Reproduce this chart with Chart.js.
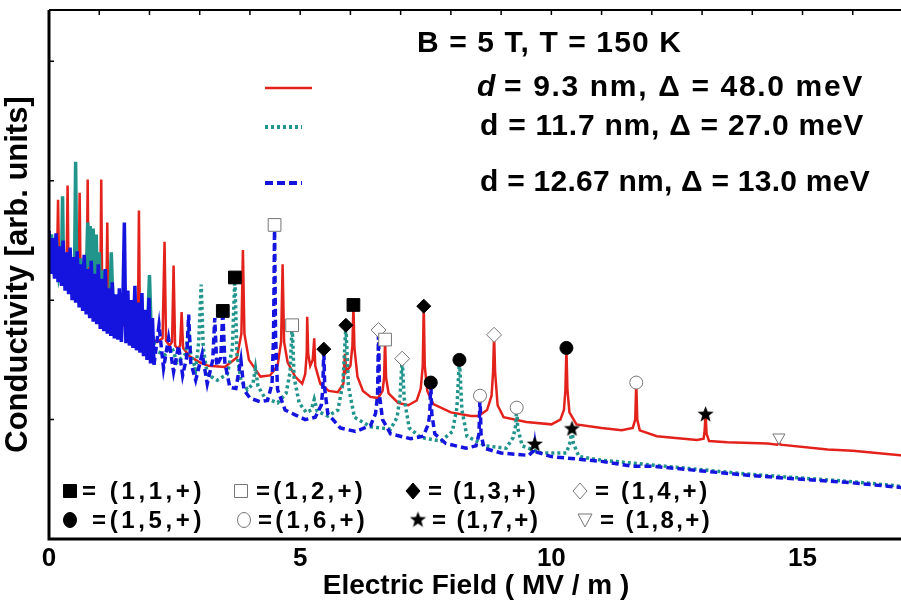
<!DOCTYPE html>
<html>
<head>
  <title>Conductivity vs Electric Field</title>
  <script src="https://cdn.jsdelivr.net/npm/chart.js"></script>
  <style>
    html, body { margin: 0; padding: 0; background: #fff; overflow: hidden; }
    #wrap { width: 913px; height: 609px; }
  </style>
</head>
<body>
<div id="wrap"><canvas id="cond"></canvas></div>
<script>
const xTicks = [0, 5, 10, 15];
const headerText = 'B = 5 T, T = 150 K';
const seriesLabels = ['d = 9.3 nm, \u0394 = 48.0 meV', 'd = 11.7 nm, \u0394 = 27.0 meV', 'd = 12.67 nm, \u0394 = 13.0 meV'];

// [field MV/m, conductivity arb.]
const redCurve = [
  [0.00,2.45],[0.08,2.34],[0.16,2.33],[0.18,2.84],[0.20,2.30],[0.28,2.22],[0.35,2.25],[0.37,2.96],[0.39,2.22],
  [0.50,2.12],[0.59,2.14],[0.61,2.90],[0.63,2.11],[0.70,2.05],[0.75,2.07],[0.77,3.01],[0.79,2.05],[0.92,1.96],
  [1.02,1.97],[1.04,3.01],[1.06,1.96],[1.10,1.93],[1.14,1.95],[1.16,2.65],[1.18,1.93],[1.45,1.80],[1.70,1.73],
  [1.77,1.78],[1.79,2.75],[1.81,1.76],[1.90,1.70],[2.15,1.65],[2.26,1.68],[2.30,2.49],[2.33,1.66],[2.40,1.62],
  [2.45,1.65],[2.48,2.29],[2.51,1.62],[2.57,1.59],[2.61,1.62],[2.64,1.90],[2.67,1.60],[2.80,1.53],[3.00,1.48],
  [3.17,1.45],[3.50,1.44],[3.74,1.52],[3.83,1.72],[3.86,2.42],[3.89,1.72],[3.98,1.50],[4.21,1.36],[4.40,1.37],
  [4.55,1.45],[4.62,1.65],[4.65,2.30],[4.68,1.65],[4.75,1.48],[4.90,1.36],[5.04,1.30],[5.10,1.38],[5.13,1.55],
  [5.14,1.86],[5.16,1.55],[5.20,1.45],[5.25,1.50],[5.28,1.68],[5.30,1.45],[5.40,1.30],[5.57,1.24],[5.75,1.23],
  [5.86,1.30],[5.89,1.55],[5.92,1.40],[6.00,1.45],[6.04,1.62],[6.06,1.96],[6.08,1.60],[6.14,1.36],[6.25,1.24],
  [6.40,1.19],[6.55,1.18],[6.64,1.24],[6.67,1.35],[6.69,1.67],[6.71,1.35],[6.76,1.22],[6.95,1.14],[7.15,1.12],
  [7.32,1.16],[7.40,1.26],[7.44,1.45],[7.46,1.95],[7.48,1.45],[7.53,1.24],[7.65,1.13],[8.00,1.06],[8.40,1.03],
  [8.55,1.03],[8.72,1.08],[8.81,1.20],[8.84,1.40],[8.86,1.71],[8.88,1.40],[8.93,1.12],[9.05,1.02],[9.50,0.98],
  [10.00,0.96],[10.18,1.00],[10.25,1.08],[10.28,1.25],[10.30,1.60],[10.32,1.25],[10.36,1.06],[10.50,0.96],
  [11.00,0.93],[11.40,0.91],[11.62,0.93],[11.67,1.00],[11.69,1.31],[11.71,1.00],[11.76,0.91],[12.10,0.86],
  [12.90,0.83],[13.03,0.84],[13.05,0.90],[13.07,1.05],[13.09,0.88],[13.14,0.82],[13.50,0.81],[14.30,0.80],
  [14.50,0.79],[14.53,0.81],[14.56,0.79],[15.50,0.75],[16.00,0.74],[17.00,0.70]
];

const tealCurve = [
  [0.00,2.35],[0.05,2.55],[0.10,2.25],[0.15,2.50],[0.20,2.20],[0.25,2.30],[0.27,2.87],[0.29,2.25],[0.35,2.15],
  [0.40,2.40],[0.45,2.10],[0.51,2.30],[0.53,3.16],[0.55,2.25],[0.60,2.05],[0.63,2.35],[0.66,2.00],[0.69,2.32],
  [0.72,1.98],[0.75,2.30],[0.77,2.65],[0.79,2.28],[0.82,2.62],[0.85,2.05],[0.88,2.60],[0.91,2.02],[0.94,2.55],
  [0.97,1.95],[1.00,2.40],[1.03,1.92],[1.06,2.25],[1.09,1.90],[1.12,2.15],[1.16,1.86],[1.20,2.05],[1.22,2.10],
  [1.24,2.40],[1.27,2.00],[1.34,1.80],[1.45,1.95],[1.55,1.74],[1.65,1.90],[1.75,1.68],
  [1.90,1.75],[1.97,1.85],[2.00,2.21],[2.03,1.80],[2.12,1.58],[2.30,1.54],[2.45,1.60],[2.55,1.48],[2.72,1.55],
  [2.78,1.75],[2.82,1.55],[2.92,1.42],[2.98,1.65],[3.03,2.13],[3.07,1.60],[3.15,1.38],[3.35,1.33],[3.55,1.38],
  [3.65,1.60],[3.70,2.19],[3.74,1.55],[3.82,1.33],[3.95,1.25],[4.06,1.30],[4.11,1.43],[4.16,1.28],[4.30,1.18],
  [4.55,1.14],[4.72,1.22],[4.80,1.40],[4.84,1.79],[4.88,1.35],[4.98,1.14],[5.12,1.06],[5.22,1.08],[5.28,1.17],
  [5.34,1.07],[5.55,1.03],[5.75,1.08],[5.85,1.30],[5.91,1.79],[5.96,1.28],[6.08,1.02],[6.40,0.94],[6.80,0.92],
  [6.93,1.02],[6.99,1.20],[7.03,1.51],[7.07,1.18],[7.17,0.93],[7.40,0.85],[7.80,0.82],[8.03,0.90],[8.12,1.10],
  [8.17,1.50],[8.22,1.08],[8.32,0.86],[8.70,0.78],[9.10,0.76],[9.24,0.85],[9.29,0.95],[9.31,1.10],[9.33,0.93],
  [9.42,0.78],[9.80,0.72],[10.30,0.72],[10.38,0.82],[10.41,0.93],[10.44,0.80],[10.55,0.69],[11.00,0.66],
  [12.00,0.62],[13.00,0.58],[14.00,0.54],[15.00,0.51],[16.00,0.48],[17.00,0.44]
];

const blueCurve = [
  [0.00,2.58],[0.04,2.22],[0.07,2.52],[0.11,2.18],[0.14,2.56],[0.18,2.15],[0.21,2.45],[0.25,2.12],[0.28,2.50],
  [0.32,2.08],[0.35,2.40],[0.39,2.05],[0.42,2.44],[0.46,2.00],[0.49,2.36],[0.53,1.98],[0.56,2.41],[0.60,1.94],
  [0.63,2.30],[0.67,1.91],[0.70,2.38],[0.74,1.88],[0.77,2.26],[0.81,1.85],[0.84,2.33],[0.88,1.82],[0.91,2.22],
  [0.95,1.80],[0.98,2.30],[1.02,1.76],[1.05,2.18],[1.09,1.74],[1.12,2.26],[1.16,1.72],[1.19,2.10],[1.23,1.70],
  [1.26,2.15],[1.30,1.68],[1.33,2.05],[1.37,1.67],[1.40,2.10],[1.44,1.65],[1.47,1.95],[1.50,2.65],[1.53,1.64],
  [1.57,2.08],[1.60,1.62],[1.64,2.00],[1.67,1.60],[1.71,2.12],[1.74,1.58],[1.78,1.98],[1.81,1.56],[1.85,2.06],
  [1.88,1.53],[1.92,1.92],[1.95,1.50],[1.99,2.02],[2.02,1.47],[2.06,1.85],[2.09,1.46],
  [2.19,1.79],[2.28,1.43],[2.38,1.68],[2.48,1.40],[2.58,1.62],[2.66,1.37],[2.74,1.52],
  [2.78,1.88],[2.82,1.48],[2.92,1.33],[3.05,1.55],[3.15,1.30],[3.26,1.50],[3.30,1.85],[3.34,1.45],[3.42,1.52],
  [3.46,1.91],[3.50,1.48],[3.60,1.27],[3.72,1.26],[3.82,1.50],[3.88,1.25],[4.00,1.18],[4.20,1.15],[4.35,1.16],
  [4.44,1.30],[4.47,1.70],[4.49,2.63],[4.51,1.70],[4.55,1.25],[4.70,1.08],[4.90,1.04],[5.10,1.00],[5.30,1.02],
  [5.42,1.12],[5.45,1.25],[5.47,1.59],[5.49,1.25],[5.55,1.05],[5.80,0.93],[6.10,0.90],[6.40,0.95],[6.50,1.05],
  [6.54,1.20],[6.56,1.75],[6.58,1.20],[6.64,1.00],[6.80,0.88],[7.20,0.84],[7.45,0.86],[7.55,0.96],[7.58,1.05],
  [7.60,1.31],[7.62,1.05],[7.68,0.88],[7.90,0.80],[8.30,0.76],[8.50,0.78],[8.56,0.88],[8.58,1.20],[8.60,0.88],
  [8.66,0.76],[9.00,0.72],[9.55,0.70],[9.65,0.74],[9.67,0.80],[9.69,0.73],[10.00,0.69],[10.50,0.67],[11.00,0.65],
  [11.60,0.61],[12.00,0.61],[13.00,0.57],[14.00,0.53],[15.00,0.50],[16.00,0.47],[17.00,0.43]
];

// resonance markers (1,n,+) on the three curves
const mark11 = [[3.46,1.91],[3.70,2.19],[6.06,1.96]];
const mark12 = [[4.49,2.63],[4.84,1.79],[6.69,1.67]];
const mark13 = [[5.47,1.59],[5.91,1.79],[7.46,1.95]];
const mark14 = [[6.56,1.75],[7.03,1.51],[8.86,1.71]];
const mark15 = [[7.60,1.31],[8.17,1.50],[10.30,1.60]];
const mark16 = [[8.58,1.20],[9.31,1.10],[11.69,1.31]];
const mark17 = [[9.67,0.80],[10.41,0.93],[13.07,1.05]];
const mark18 = [[14.53,0.85]];
const markLabels = ['= (1,1,+)', '=(1,2,+)', '= (1,3,+)', '= (1,4,+)', '=(1,5,+)', '=(1,6,+)', '= (1,7,+)', '= (1,8,+)'];

const RED = '#e3221c', TEAL = '#21948c', BLUE = '#1414de';
const FONT = '"Liberation Sans", Arial, sans-serif';
const DENSE_END = 2.1;   // below this field the oscillations merge into a solid band

function starImage(size) {
  const c = document.createElement('canvas');
  c.width = c.height = size;
  const g = c.getContext('2d');
  g.beginPath();
  for (let i = 0; i < 10; i++) {
    const r = i % 2 ? size * 0.21 : size * 0.5;
    const a = -Math.PI / 2 + i * Math.PI / 5;
    g.lineTo(size / 2 + r * Math.cos(a), size / 2 + 1 + r * Math.sin(a));
  }
  g.closePath();
  g.fillStyle = '#000';
  g.fill();
  return c;
}
const star = starImage(17);

const toXY = arr => arr.map(p => ({ x: p[0], y: p[1] }));

const markStyles = [
  { data: mark11, pointStyle: 'rect', r: 9, fill: '#000', line: '#000' },
  { data: mark12, pointStyle: 'rect', r: 9, fill: '#fff', line: '#777' },
  { data: mark13, pointStyle: 'rectRot', r: 7, fill: '#000', line: '#000' },
  { data: mark14, pointStyle: 'rectRot', r: 7.5, fill: '#fff', line: '#777' },
  { data: mark15, pointStyle: 'circle', r: 6.5, fill: '#000', line: '#000' },
  { data: mark16, pointStyle: 'circle', r: 6.5, fill: '#fff', line: '#777' },
  { data: mark17, pointStyle: star, r: 8, fill: '#000', line: '#000' },
  { data: mark18, pointStyle: 'triangle', r: 7, fill: '#fff', line: '#777', rot: 180 }
];

const markerSets = markStyles.map((m, i) => ({
  label: markLabels[i],
  data: toXY(m.data),
  showLine: false,
  pointStyle: m.pointStyle,
  pointRadius: m.r,
  pointRotation: m.rot || 0,
  pointBackgroundColor: m.fill,
  pointBorderColor: m.line,
  pointBorderWidth: 1,
  clip: false
}));

const denseSolid = { borderDash: c => (c.p1.parsed.x < DENSE_END ? [] : undefined) };

const curveSets = [
  { label: seriesLabels[2], data: toXY(blueCurve), showLine: true, borderColor: BLUE, borderWidth: 3.5,
    borderDash: [7, 4], pointRadius: 0, segment: denseSolid },
  { label: seriesLabels[1], data: toXY(tealCurve), showLine: true, borderColor: TEAL, borderWidth: 3.5,
    borderDash: [3, 3], pointRadius: 0, segment: denseSolid },
  { label: seriesLabels[0], data: toXY(redCurve), showLine: true, borderColor: RED, borderWidth: 2.5, pointRadius: 0 }
];

function fitText(ctx, text, x, y, w, font) {
  ctx.font = font;
  ctx.letterSpacing = '0px';
  const m = ctx.measureText(text).width;
  const n = [...text].length;
  ctx.letterSpacing = ((w - m) / n).toFixed(2) + 'px';
  ctx.fillText(text, x, y);
  ctx.letterSpacing = '0px';
}

function legendMarker(ctx, i, x, y) {
  const m = markStyles[i];
  ctx.save();
  ctx.fillStyle = m.fill;
  ctx.strokeStyle = m.line;
  ctx.lineWidth = 1;
  ctx.beginPath();
  if (m.pointStyle === 'rect') {
    ctx.rect(x - 6.5, y - 6.5, 13, 13);
  } else if (m.pointStyle === 'rectRot') {
    ctx.moveTo(x, y - 8); ctx.lineTo(x + 7, y); ctx.lineTo(x, y + 8); ctx.lineTo(x - 7, y); ctx.closePath();
  } else if (m.pointStyle === 'circle') {
    ctx.ellipse(x, y, 6.5, 7.5, 0, 0, Math.PI * 2);
  } else if (m.pointStyle === 'triangle') {
    ctx.moveTo(x - 7, y - 6); ctx.lineTo(x + 7, y - 6); ctx.lineTo(x, y + 7); ctx.closePath();
  } else {
    ctx.drawImage(star, x - 8.5, y - 9.5);
    ctx.restore();
    return;
  }
  ctx.fill();
  ctx.stroke();
  ctx.restore();
}

const decor = {
  id: 'decor',
  afterDraw(chart) {
    const { ctx, chartArea: a, scales: { x, y } } = chart;
    ctx.save();
    ctx.strokeStyle = '#000';
    // frame
    ctx.lineWidth = 3;
    ctx.beginPath();
    ctx.moveTo(a.left, a.top); ctx.lineTo(a.left, a.bottom); ctx.lineTo(a.right, a.bottom);
    ctx.stroke();
    ctx.lineWidth = 2;
    ctx.beginPath();
    ctx.moveTo(a.left, a.top); ctx.lineTo(a.right, a.top);
    ctx.stroke();
    // inward ticks
    ctx.lineWidth = 1.5;
    ctx.beginPath();
    for (let v = 1; v < 17; v++) {
      const px = x.getPixelForValue(v);
      ctx.moveTo(px, a.top); ctx.lineTo(px, a.top + 5);
    }
    for (let v = 1; v < 5; v++) {
      const py = y.getPixelForValue(v);
      ctx.moveTo(a.left, py); ctx.lineTo(a.left + 5, py);
    }
    ctx.stroke();

    // series legend
    ctx.fillStyle = '#000';
    ctx.textBaseline = 'middle';
    ctx.textAlign = 'left';
    fitText(ctx, headerText, 417, 44, 265, 'bold 30px ' + FONT);
    ctx.font = 'italic bold 30px ' + FONT;
    ctx.fillText('d', 477, 88);
    fitText(ctx, seriesLabels[0].slice(1), 494, 88, 370, 'bold 30px ' + FONT);
    fitText(ctx, seriesLabels[1], 480, 127, 384, 'bold 30px ' + FONT);
    fitText(ctx, seriesLabels[2], 480, 183, 390, 'bold 30px ' + FONT);
    const samples = [[RED, [], 2.5, 88, 312], [TEAL, [3, 3], 4, 127, 302], [BLUE, [8, 4], 4, 183, 302]];
    samples.forEach(([c, dash, w, yy, x2]) => {
      ctx.strokeStyle = c; ctx.setLineDash(dash); ctx.lineWidth = w;
      ctx.beginPath(); ctx.moveTo(265, yy); ctx.lineTo(x2, yy); ctx.stroke();
    });
    ctx.setLineDash([]);

    // marker legend
    const slots = [
      [70, 82, 123, 491], [241, 256, 110, 491], [413, 428, 110, 491], [580, 595, 115, 491],
      [70, 92, 113, 520], [244, 258, 110, 520], [418, 432, 108, 520], [585, 600, 112, 520]
    ];
    slots.forEach(([mx, tx, tw, yy], i) => {
      legendMarker(ctx, i, mx, yy);
      ctx.fillStyle = '#000';
      fitText(ctx, markLabels[i], tx, yy + 1, tw, 'bold 24px ' + FONT);
    });
    ctx.restore();
  }
};

new Chart(document.getElementById('cond'), {
  type: 'scatter',
  data: { datasets: markerSets.concat(curveSets) },
  options: {
    responsive: true,
    maintainAspectRatio: false,
    animation: false,
    events: [],
    layout: { padding: { top: 6, left: 0, right: 0, bottom: 0 } },
    plugins: { legend: { display: false }, tooltip: { enabled: false } },
    scales: {
      x: {
        type: 'linear', min: 0, max: 17,
        afterFit: s => { s.height = 70; },
        afterBuildTicks: s => { s.ticks = xTicks.map(v => ({ value: v })); },
        grid: { display: false, drawTicks: false },
        border: { display: false },
        ticks: { color: '#000', padding: 4, font: { family: FONT, size: 26, weight: 'bold' } },
        title: { display: true, text: 'Electric Field ( MV / m )', color: '#000', padding: { top: 0, bottom: 6 },
                 font: { family: FONT, size: 28, weight: 'bold' } }
      },
      y: {
        type: 'linear', min: 0, max: 4.43,
        afterFit: s => { s.width = 49; },
        grid: { display: false, drawTicks: false },
        border: { display: false },
        ticks: { display: false },
        title: { display: true, text: 'Conductivity [arb. units]', color: '#000', padding: { top: 0, bottom: 0 },
                 font: { family: FONT, size: 31, weight: 'bold' } }
      }
    }
  },
  plugins: [decor]
});
</script>
</body>
</html>
